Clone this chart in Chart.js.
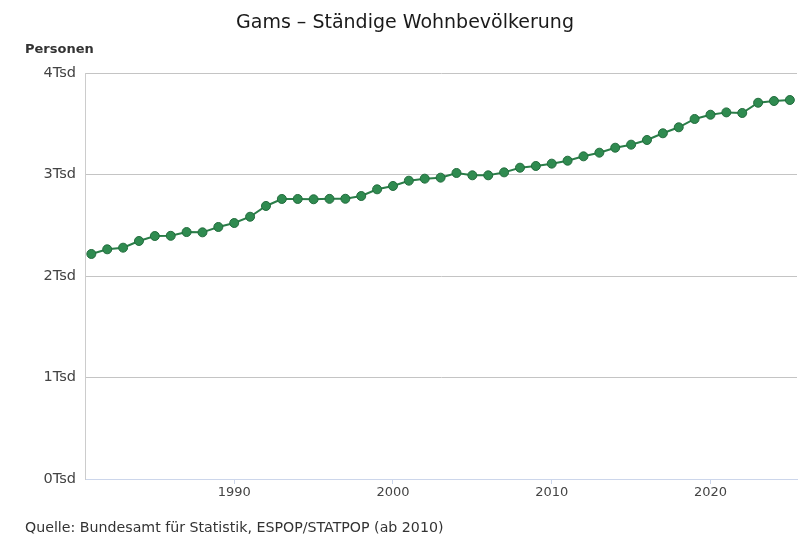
<!DOCTYPE html>
<html>
<head>
<meta charset="utf-8">
<script src="https://cdn.jsdelivr.net/npm/chart.js@4.4.1/dist/chart.umd.min.js"></script>
<style>
  html, body { margin: 0; padding: 0; background: #fff; }
  #wrap { width: 810px; height: 540px; }
</style>
</head>
<body>
<div id="wrap"><canvas id="chart" width="810" height="540"></canvas></div>
<script>
// Ständige Wohnbevölkerung Gams
const years = [1981, 1982, 1983, 1984, 1985, 1986, 1987, 1988, 1989, 1990,
               1991, 1992, 1993, 1994, 1995, 1996, 1997, 1998, 1999, 2000,
               2001, 2002, 2003, 2004, 2005, 2006, 2007, 2008, 2009, 2010,
               2011, 2012, 2013, 2014, 2015, 2016, 2017, 2018, 2019, 2020,
               2021, 2022, 2023, 2024, 2025];
const population = [2217, 2263, 2279, 2345, 2394, 2396, 2433, 2430, 2483, 2522,
                    2584, 2690, 2759, 2759, 2756, 2760, 2761, 2788, 2854, 2887,
                    2939, 2959, 2969, 3015, 2992, 2992, 3021, 3067, 3084, 3107,
                    3136, 3179, 3215, 3264, 3294, 3340, 3406, 3465, 3547, 3589,
                    3612, 3606, 3707, 3724, 3734];
const yTicks = [0, 1000, 2000, 3000, 4000];

const titleText = 'Gams – Ständige Wohnbevölkerung';
const yAxisTitle = 'Personen';
const sourceText = 'Quelle: Bundesamt für Statistik, ESPOP/STATPOP (ab 2010)';

const FONT = '"DejaVu Sans", Verdana, sans-serif';

// title, axis title and source line drawn directly on the canvas
const textPlugin = {
    id: 'texts',
    afterDraw(chart) {
        const ctx = chart.ctx;
        ctx.save();
        ctx.fillStyle = '#1a1a1a';
        ctx.font = '19px ' + FONT;
        ctx.textAlign = 'center';
        ctx.textBaseline = 'middle';
        ctx.fillText(titleText, 405, 23);

        ctx.fillStyle = '#333';
        ctx.font = 'bold 13px ' + FONT;
        ctx.textAlign = 'left';
        ctx.fillText(yAxisTitle, 25, 50);

        ctx.font = '14.2px ' + FONT;
        ctx.fillText(sourceText, 25, 528);
        ctx.restore();
    }
};

const ctx = document.getElementById('chart').getContext('2d');
new Chart(ctx, {
    type: 'line',
    data: {
        datasets: [{
            label: 'Personen',
            data: years.map((y, i) => ({ x: y, y: population[i] })),
            borderColor: '#2a7d48',
            borderWidth: 2,
            pointRadius: 4.5,
            pointBackgroundColor: '#2f8b50',
            pointBorderColor: '#226c3d',
            pointBorderWidth: 1,
            tension: 0
        }]
    },
    options: {
        responsive: false,
        animation: false,
        layout: { padding: { top: 73, right: 13, left: 0, bottom: 0 } },
        plugins: {
            legend: { display: false },
            tooltip: { enabled: false }
        },
        scales: {
            x: {
                type: 'linear',
                min: 1980.6,
                max: 2025.45,
                afterFit: s => { s.height = 61; },
                border: { color: '#ccd6eb', width: 1 },
                grid: { drawOnChartArea: false, drawTicks: true, tickLength: 5, color: '#ccd6eb' },
                ticks: {
                    stepSize: 10,
                    includeBounds: false,
                    padding: 1,
                    color: '#444',
                    font: { family: FONT, size: 13 },
                    callback: v => String(v)
                }
            },
            y: {
                min: 0,
                max: 4000,
                afterFit: s => { s.width = 85; },
                afterBuildTicks: s => { s.ticks = yTicks.map(v => ({ value: v })); },
                border: { color: '#cccccc', width: 1 },
                grid: { color: '#c4c4c4', lineWidth: 1, drawTicks: false },
                ticks: {
                    padding: 9,
                    color: '#444',
                    font: { family: FONT, size: 14.5 },
                    callback: v => (v / 1000) + 'Tsd'
                }
            }
        }
    },
    plugins: [textPlugin]
});
</script>
</body>
</html>
